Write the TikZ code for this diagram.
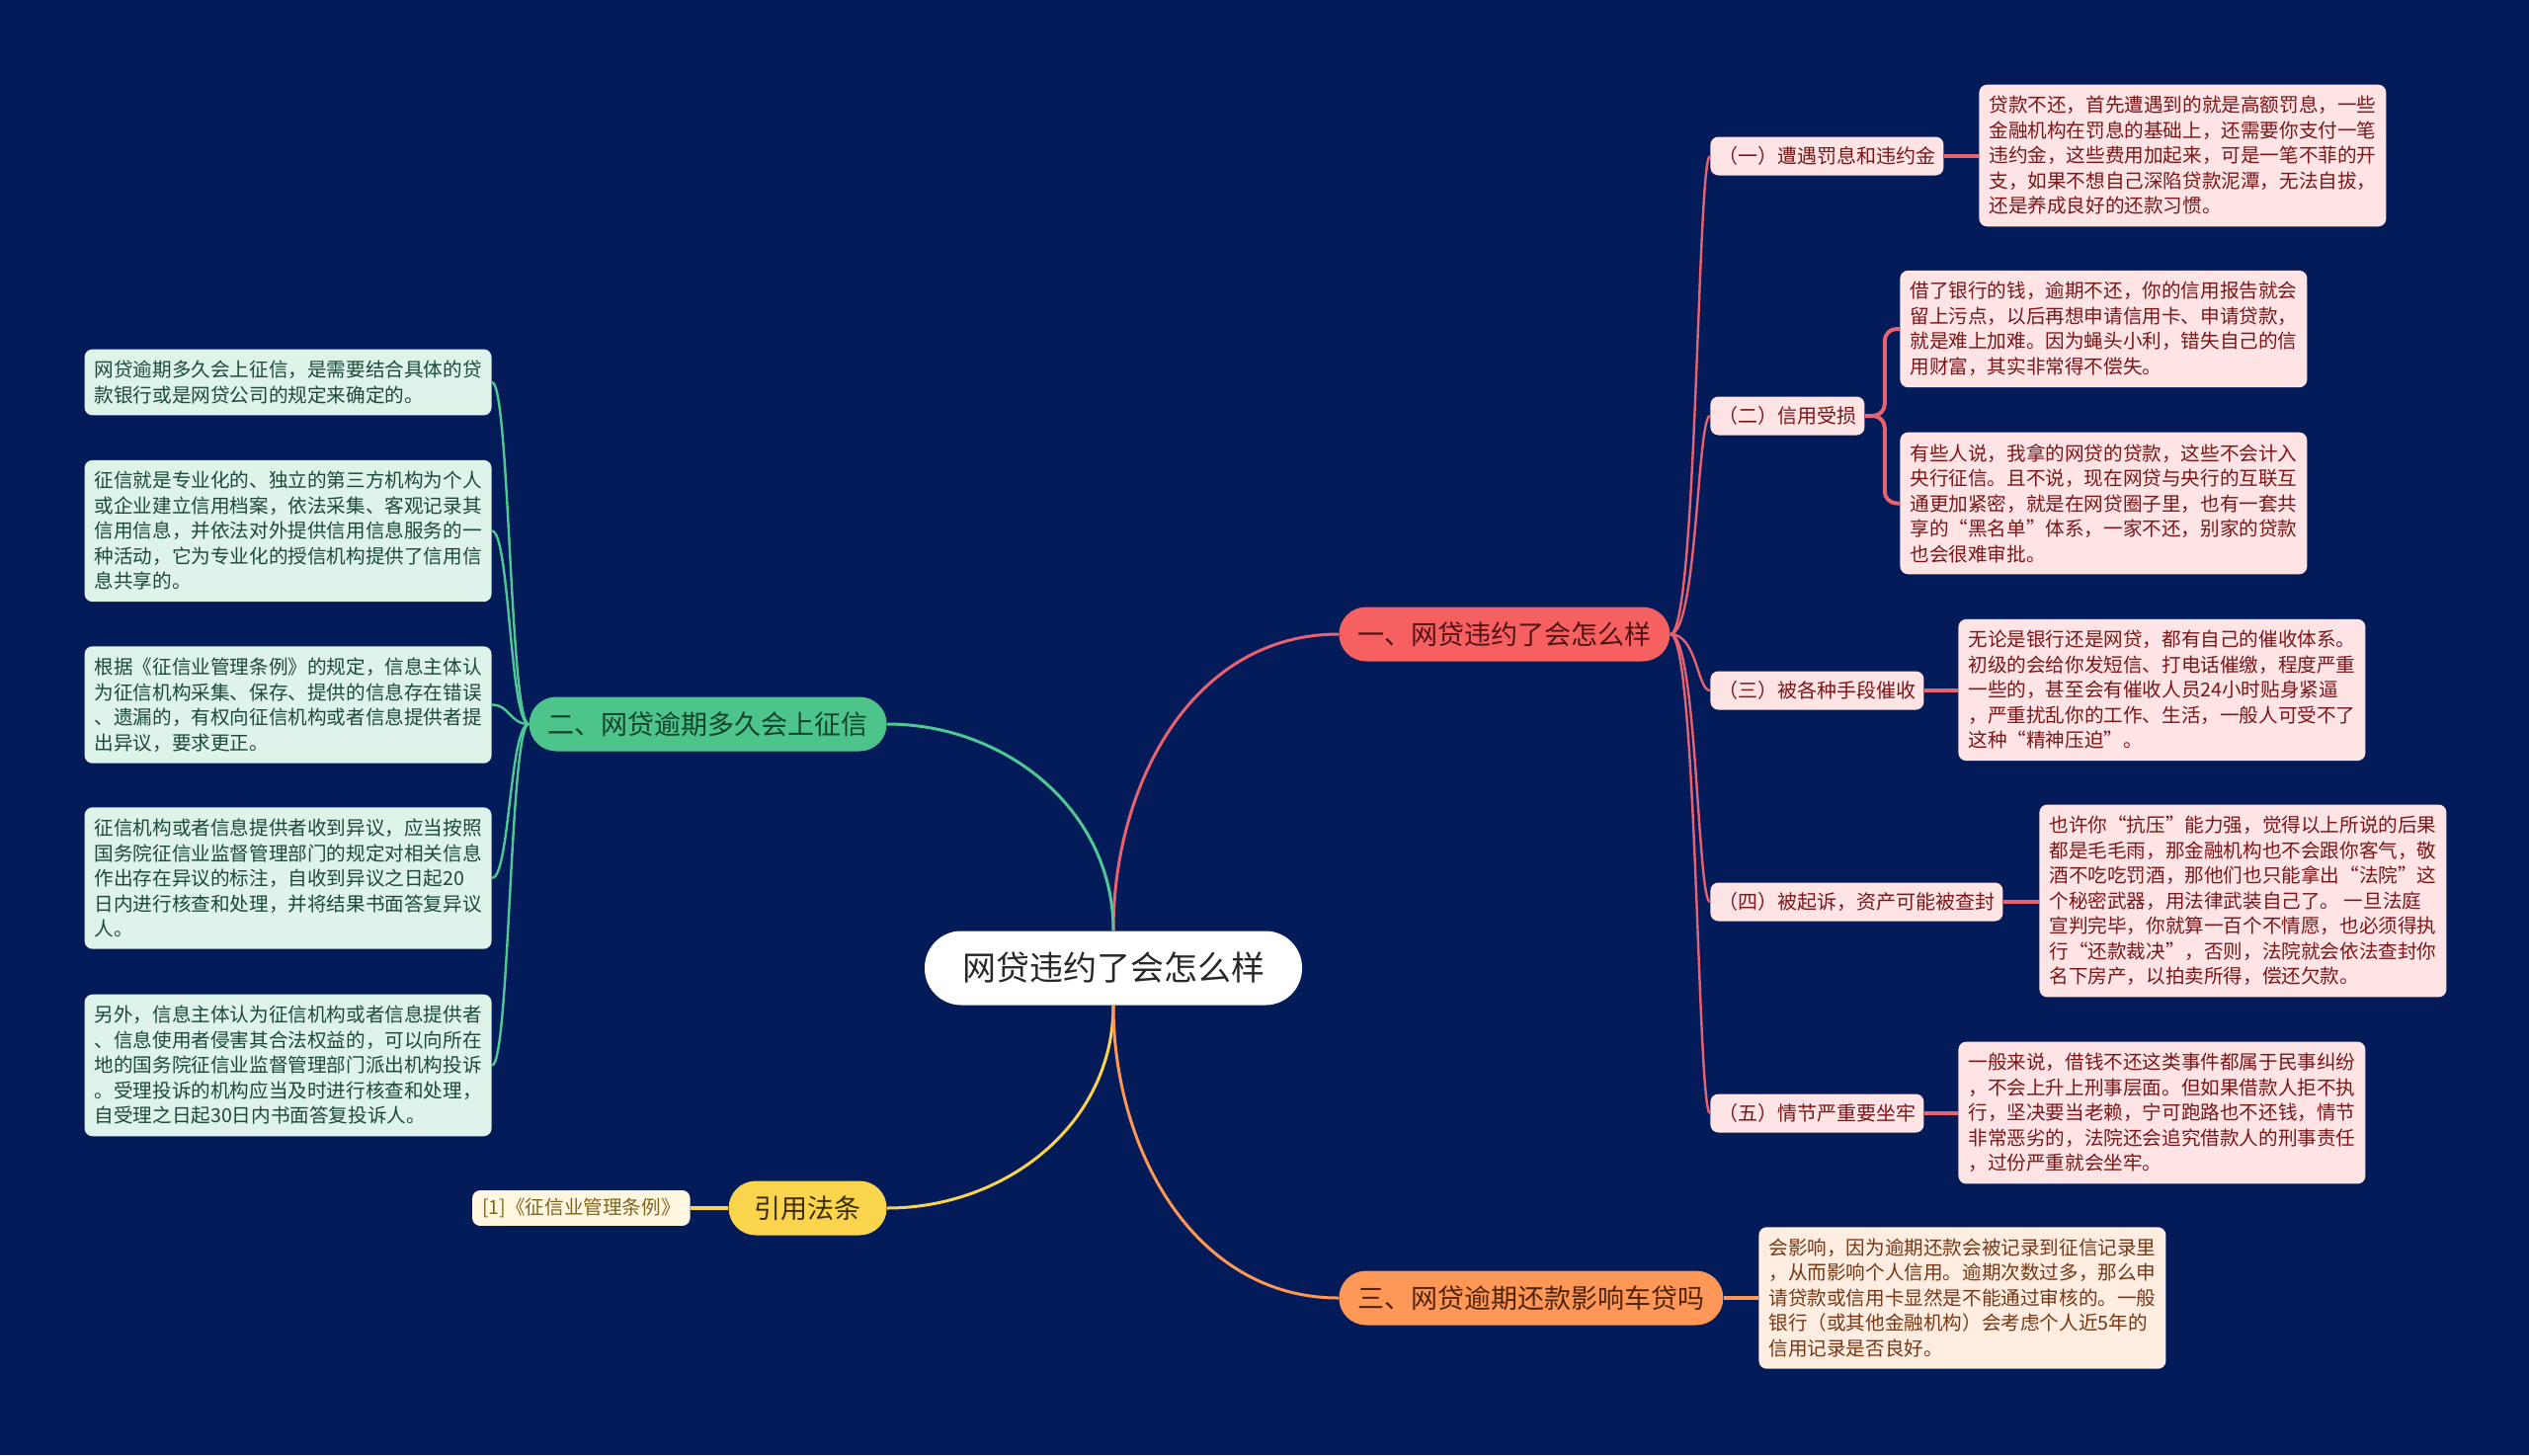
\documentclass[tikz,border=0pt]{standalone}
\usepackage{fontspec}
\setmainfont{Noto Sans CJK SC}
\definecolor{bg}{RGB}{3,27,88}
\definecolor{redF}{RGB}{247,96,96}
\definecolor{redD}{RGB}{80,18,18}
\definecolor{redL}{RGB}{232,98,112}
\definecolor{pinkF}{RGB}{255,228,230}
\definecolor{pinkT}{RGB}{122,22,24}
\definecolor{grnF}{RGB}{76,196,140}
\definecolor{grnD}{RGB}{18,66,44}
\definecolor{grnL}{RGB}{80,200,150}
\definecolor{mintF}{RGB}{222,243,234}
\definecolor{mintT}{RGB}{28,74,54}
\definecolor{yelF}{RGB}{250,212,76}
\definecolor{yelD}{RGB}{60,45,10}
\definecolor{yelL}{RGB}{250,212,76}
\definecolor{creamF}{RGB}{255,247,224}
\definecolor{creamT}{RGB}{130,100,30}
\definecolor{orgF}{RGB}{255,152,86}
\definecolor{orgD}{RGB}{80,35,10}
\definecolor{orgL}{RGB}{255,152,86}
\definecolor{peachF}{RGB}{255,237,226}
\definecolor{peachT}{RGB}{118,55,20}
\definecolor{rootT}{RGB}{40,40,40}
\tikzset{
  rootnode/.style={fill=white, text=rootT, rounded corners=18.5pt, minimum height=37.5pt,
    inner xsep=19pt, font=\fontsize{17}{20}\selectfont},
  brnode/.style={rounded corners=13.75pt, minimum height=27.5pt, inner xsep=9.5pt,
    font=\fontsize{13.5}{16}\selectfont},
  subnode/.style={fill=pinkF, text=pinkT, rounded corners=4pt, minimum height=19.5pt,
    inner xsep=4pt, font=\fontsize{10}{12}\selectfont},
  leafnode/.style={rounded corners=4pt, align=left, inner xsep=5pt, inner ysep=5.8pt,
    font=\fontsize{9.8}{12.75}\selectfont},
  leafR/.style={leafnode, fill=pinkF, text=pinkT, anchor=west},
  leafG/.style={leafnode, fill=mintF, text=mintT, anchor=east},
  rootline/.style={line width=1.5pt},
  trunkline/.style={line width=1.2pt},
  leafline/.style={line width=2pt},
}
\begin{document}
\begin{tikzpicture}[x=0.5pt,y=-0.5pt]
\fill[bg] (0,0) rectangle (2560,1473);
\useasboundingbox (0,0) rectangle (2560,1473);

% root and main branches
\node[rootnode] (root) at (1127,980) {网贷违约了会怎么样};
\node[brnode, fill=redF, text=redD, anchor=west] (b1) at (1355,642) {一、网贷违约了会怎么样};
\node[brnode, fill=grnF, text=grnD, anchor=east] (b2) at (898,733) {二、网贷逾期多久会上征信};
\node[brnode, fill=yelF, text=yelD, anchor=east, minimum width=80pt] (b3) at (898,1223) {引用法条};
\node[brnode, fill=orgF, text=orgD, anchor=west] (b4) at (1355,1314) {三、网贷逾期还款影响车贷吗};

% sub nodes of branch one
\node[subnode, anchor=west] (s1) at (1731,158) {（一）遭遇罚息和违约金};
\node[subnode, anchor=west] (s2) at (1731,421) {（二）信用受损};
\node[subnode, anchor=west] (s3) at (1731,699) {（三）被各种手段催收};
\node[subnode, anchor=west] (s4) at (1731,913) {（四）被起诉，资产可能被查封};
\node[subnode, anchor=west] (s5) at (1731,1127) {（五）情节严重要坐牢};

% leaves of branch one
\node[leafR] (l1) at (2003,157.5) {贷款不还，首先遭遇到的就是高额罚息，一些\\
金融机构在罚息的基础上，还需要你支付一笔\\
违约金，这些费用加起来，可是一笔不菲的开\\
支，如果不想自己深陷贷款泥潭，无法自拔，\\
还是养成良好的还款习惯。};
\node[leafR] (l2a) at (1923,333) {借了银行的钱，逾期不还，你的信用报告就会\\
留上污点，以后再想申请信用卡、申请贷款，\\
就是难上加难。因为蝇头小利，错失自己的信\\
用财富，其实非常得不偿失。};
\node[leafR] (l2b) at (1923,509.5) {有些人说，我拿的网贷的贷款，这些不会计入\\
央行征信。且不说，现在网贷与央行的互联互\\
通更加紧密，就是在网贷圈子里，也有一套共\\
享的“黑名单”体系，一家不还，别家的贷款\\
也会很难审批。};
\node[leafR] (l3) at (1982,698.5) {无论是银行还是网贷，都有自己的催收体系。\\
初级的会给你发短信、打电话催缴，程度严重\\
一些的，甚至会有催收人员24小时贴身紧逼\\
，严重扰乱你的工作、生活，一般人可受不了\\
这种“精神压迫”。};
\node[leafR] (l4) at (2064,912) {也许你“抗压”能力强，觉得以上所说的后果\\
都是毛毛雨，那金融机构也不会跟你客气，敬\\
酒不吃吃罚酒，那他们也只能拿出“法院”这\\
个秘密武器，用法律武装自己了。 一旦法庭\\
宣判完毕，你就算一百个不情愿，也必须得执\\
行“还款裁决”，否则，法院就会依法查封你\\
名下房产，以拍卖所得，偿还欠款。};
\node[leafR] (l5) at (1982,1126.5) {一般来说，借钱不还这类事件都属于民事纠纷\\
，不会上升上刑事层面。但如果借款人拒不执\\
行，坚决要当老赖，宁可跑路也不还钱，情节\\
非常恶劣的，法院还会追究借款人的刑事责任\\
，过份严重就会坐牢。};

% leaf of branch three
\node[leafnode, fill=peachF, text=peachT, anchor=west] (l6) at (1780,1314) {会影响，因为逾期还款会被记录到征信记录里\\
，从而影响个人信用。逾期次数过多，那么申\\
请贷款或信用卡显然是不能通过审核的。一般\\
银行（或其他金融机构）会考虑个人近5年的\\
信用记录是否良好。};

% leaves of branch two
\node[leafG] (g1) at (498,387) {网贷逾期多久会上征信，是需要结合具体的贷\\
款银行或是网贷公司的规定来确定的。};
\node[leafG] (g2) at (498,537.5) {征信就是专业化的、独立的第三方机构为个人\\
或企业建立信用档案，依法采集、客观记录其\\
信用信息，并依法对外提供信用信息服务的一\\
种活动，它为专业化的授信机构提供了信用信\\
息共享的。};
\node[leafG] (g3) at (498,713.5) {根据《征信业管理条例》的规定，信息主体认\\
为征信机构采集、保存、提供的信息存在错误\\
、遗漏的，有权向征信机构或者信息提供者提\\
出异议，要求更正。};
\node[leafG] (g4) at (498,889) {征信机构或者信息提供者收到异议，应当按照\\
国务院征信业监督管理部门的规定对相关信息\\
作出存在异议的标注，自收到异议之日起20\\
日内进行核查和处理，并将结果书面答复异议\\
人。};
\node[leafG] (g5) at (498,1078.5) {另外，信息主体认为征信机构或者信息提供者\\
、信息使用者侵害其合法权益的，可以向所在\\
地的国务院征信业监督管理部门派出机构投诉\\
。受理投诉的机构应当及时进行核查和处理，\\
自受理之日起30日内书面答复投诉人。};

% leaf of citation branch
\node[leafnode, fill=creamF, text=creamT, anchor=east, inner ysep=4pt] (r1) at (699,1223) {[1]《征信业管理条例》};

% trunk coordinates
\coordinate (tR) at (1718,0);
\coordinate (tG) at (516,0);

% root connectors
\draw[rootline, redL] (root.north) .. controls +(0,-148) and +(-148,0) .. (b1.west);
\draw[rootline, grnL] (root.north) .. controls +(0,-121) and +(121,0) .. (b2.east);
\draw[rootline, yelL] (root.south) .. controls +(0,120) and +(120,0) .. (b3.east);
\draw[rootline, orgL] (root.south) .. controls +(0,146) and +(-146,0) .. (b4.west);

% branch one to sub nodes
\foreach \s in {s1,s2,s3,s4,s5}{
  \draw[trunkline, redL] (b1.east) .. controls (b1.east -| tR) and (\s.west -| tR) .. (\s.west);
}
% sub nodes to leaves
\draw[leafline, redL] (s1.east) -- (s1.east -| l1.west);
\draw[leafline, redL, rounded corners=6pt] (s2.east) -- ++(20,0) |- (l2a.west);
\draw[leafline, redL, rounded corners=6pt] (s2.east) -- ++(20,0) |- (l2b.west);
\draw[leafline, redL] (s3.east) -- (s3.east -| l3.west);
\draw[leafline, redL] (s4.east) -- (s4.east -| l4.west);
\draw[leafline, redL] (s5.east) -- (s5.east -| l5.west);

% branch two to leaves
\foreach \g in {g1,g2,g3,g4,g5}{
  \draw[trunkline, grnL] (b2.west) .. controls (b2.west -| tG) and (\g.east -| tG) .. (\g.east);
}
% citation and branch three
\draw[leafline, yelL] (b3.west) -- (b3.west -| r1.east);
\draw[leafline, orgL] (b4.east) -- (b4.east -| l6.west);
\end{tikzpicture}
\end{document}
